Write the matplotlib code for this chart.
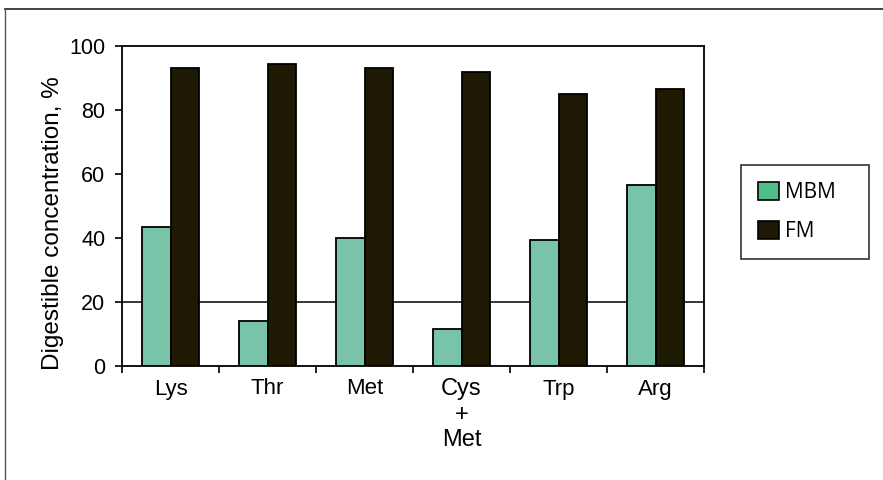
import numpy as np
import matplotlib
matplotlib.use("Agg")
import matplotlib.pyplot as plt
from matplotlib.patches import Patch
from matplotlib.lines import Line2D

plt.rcParams['font.family'] = ['Liberation Sans', 'DejaVu Sans']

# data
categories = ["Lys", "Thr", "Met", "Cys\n+\nMet", "Trp", "Arg"]
mbm = [43.5, 14, 40, 11.5, 39.5, 56.5]
fm = [93, 94.5, 93, 92, 85, 86.5]
series_names = ["MBM", "FM"]
y_ticks = [0, 20, 40, 60, 80, 100]
ref_line = 20

mbm_color = "#79c4a8"
mbm_legend_color = "#4fbd8c"
fm_color = "#1e1903"

fig = plt.figure(figsize=(8.83, 4.8), dpi=100)
ax = fig.add_axes([122/883, 1-366/480, (704-122)/883, (366-46)/480])

x = np.arange(len(categories))
w = 0.29
ax.bar(x - w/2, mbm, w, color=mbm_color, edgecolor="black", linewidth=1.3, zorder=3)
ax.bar(x + w/2, fm, w, color=fm_color, edgecolor="black", linewidth=1.3, zorder=3)

ax.axhline(ref_line, color="black", linewidth=1.1, zorder=1)

ax.set_xlim(-0.5, len(categories) - 0.5)
ax.set_ylim(0, 100)
ax.set_yticks(y_ticks)
ax.tick_params(axis="y", labelsize=15.5, length=5, width=1.2, pad=7, direction="out")

ax.set_xticks(x)
ax.set_xticklabels(categories, fontsize=16, linespacing=1.2)
ax.set_xticks(np.arange(len(categories) + 1) - 0.5, minor=True)
ax.tick_params(axis="x", which="major", length=0, pad=9)
ax.tick_params(axis="x", which="minor", length=5, width=1.2, direction="out")
for lbl in ax.get_xticklabels():
    if "+" in lbl.get_text():
        lbl.set_fontsize(17)

for s in ax.spines.values():
    s.set_linewidth(1.3)
    s.set_color("black")

ax.set_ylabel("Digestible concentration, %", fontsize=17.5)
ax.yaxis.set_label_coords(-0.1, 0.447)

handles = [Patch(facecolor=mbm_legend_color, edgecolor="black", linewidth=1.2),
           Patch(facecolor=fm_color, edgecolor="black", linewidth=1.2)]
leg = fig.legend(handles, series_names, loc="upper left", mode="expand",
                 bbox_to_anchor=(741/883, 1-258/480, 128/883, 93/480),
                 frameon=True, fancybox=False,
                 prop={"family": ["Open Sans", "DejaVu Sans"], "size": 15},
                 handlelength=1.0, handleheight=1.0, handletextpad=0.3,
                 labelspacing=0.85, borderpad=0.8, borderaxespad=0)
leg.get_frame().set_edgecolor("black")
leg.get_frame().set_linewidth(1.2)

# outer frame (top and left only)
fig.add_artist(Line2D([5/883, 1], [1-9/480, 1-9/480], color="#333333", linewidth=1.3))
fig.add_artist(Line2D([5/883, 5/883], [0, 1-9/480], color="#555555", linewidth=1.0))

fig.savefig("out.png", dpi=100)
